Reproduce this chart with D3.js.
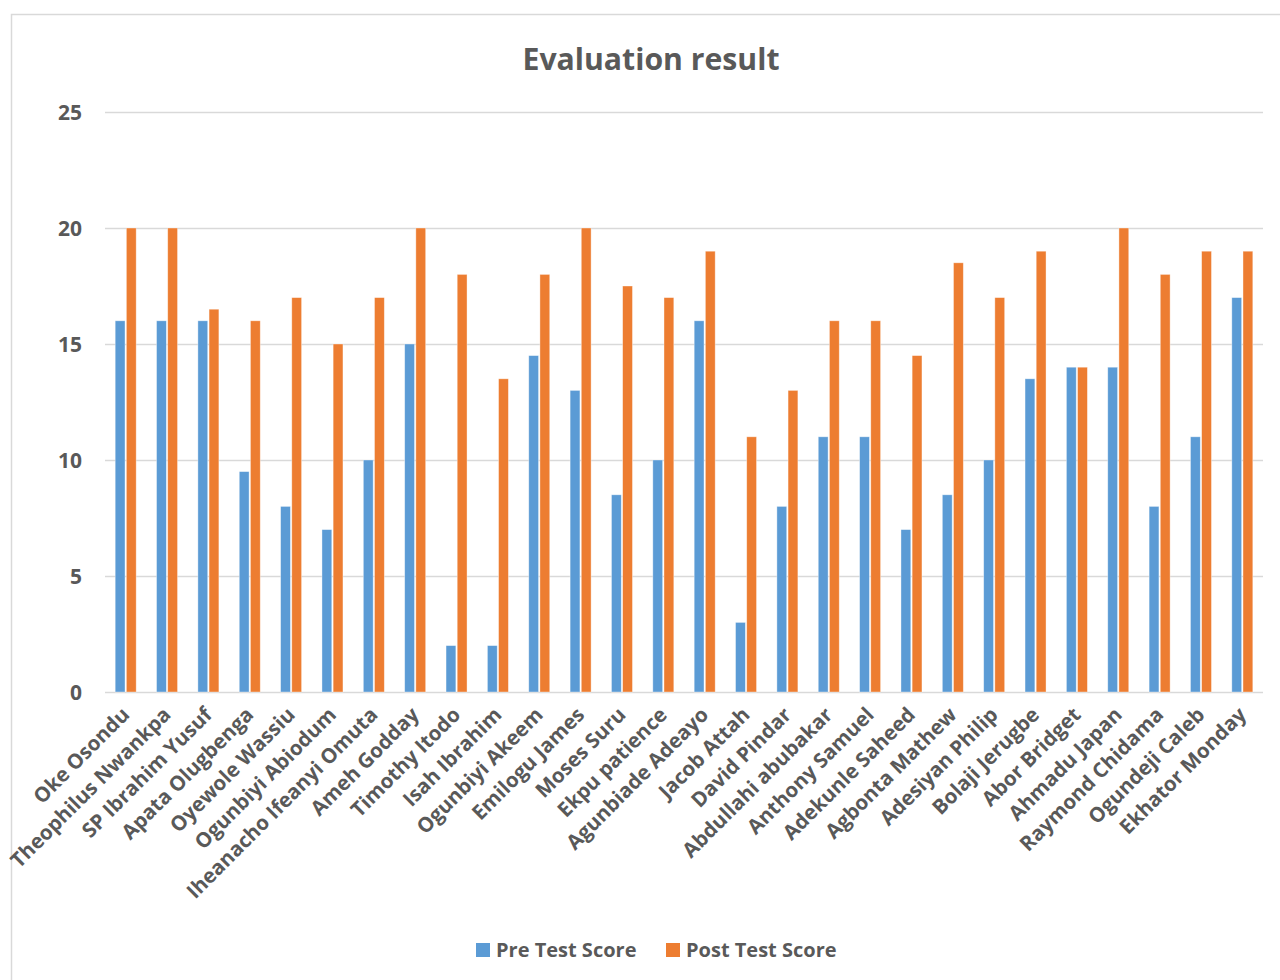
<!DOCTYPE html>
<html>
<head>
<meta charset="utf-8">
<script src="https://cdn.jsdelivr.net/npm/d3@7"></script>
<style>
  html, body { margin: 0; padding: 0; background: #fff; }
  svg text { font-family: "Open Sans", "DejaVu Sans", sans-serif; font-weight: 700; fill: #595959; }
</style>
</head>
<body>
<svg id="chart" width="1280" height="980"></svg>
<script>
const students = [
  "Oke Osondu", "Theophilus Nwankpa", "SP Ibrahim Yusuf", "Apata Olugbenga",
  "Oyewole Wassiu", "Ogunbiyi Abiodum", "Iheanacho Ifeanyi Omuta", "Ameh Godday",
  "Timothy Itodo", "Isah Ibrahim", "Ogunbiyi Akeem", "Emilogu James",
  "Moses Suru", "Ekpu patience", "Agunbiade Adeayo", "Jacob Attah",
  "David Pindar", "Abdullahi abubakar", "Anthony Samuel", "Adekunle Saheed",
  "Agbonta Mathew", "Adesiyan Philip", "Bolaji Jerugbe", "Abor Bridget",
  "Ahmadu Japan", "Raymond Chidama", "Ogundeji Caleb", "Ekhator Monday"
];
const preTest = [16, 16, 16, 9.5, 8, 7, 10, 15, 2, 2, 14.5, 13, 8.5, 10, 16, 3,
                 8, 11, 11, 7, 8.5, 10, 13.5, 14, 14, 8, 11, 17];
const postTest = [20, 20, 16.5, 16, 17, 15, 17, 20, 18, 13.5, 18, 20, 17.5, 17, 19, 11,
                  13, 16, 16, 14.5, 18.5, 17, 19, 14, 20, 18, 19, 19];
const seriesNames = ["Pre Test Score", "Post Test Score"];
const seriesColors = ["#5B9BD5", "#ED7D31"];
const yTicks = [0, 5, 10, 15, 20, 25];

const svg = d3.select("#chart");

// chart area frame
svg.append("path")
  .attr("d", "M11.5,980 V14.5 H1280")
  .attr("fill", "none")
  .attr("stroke", "#d9d9d9")
  .attr("stroke-width", 1.5);

const plotLeft = 105, plotRight = 1263, plotTop = 112, plotBottom = 692;

const x0 = d3.scaleBand().domain(students).range([plotLeft, plotRight]).paddingInner(0).paddingOuter(0);
const x1 = d3.scaleBand().domain(seriesNames).range([-10.5, 10.5]).paddingInner(0.12);
const y = d3.scaleLinear().domain([0, 25]).range([plotBottom, plotTop]);

// title
svg.append("text")
  .attr("x", 651).attr("y", 70)
  .attr("text-anchor", "middle")
  .attr("font-size", 31)
  .attr("textLength", 257)
  .attr("lengthAdjust", "spacingAndGlyphs")
  .text("Evaluation result");

// gridlines and value labels
const yAxis = d3.axisLeft(y).tickValues(yTicks).tickSize(-(plotRight - plotLeft)).tickPadding(23);
const yg = svg.append("g").attr("transform", `translate(${plotLeft},0)`).call(yAxis);
yg.select(".domain").remove();
yg.selectAll(".tick line").attr("stroke", "#d9d9d9").attr("stroke-width", 1.5);
yg.selectAll(".tick text")
  .attr("font-size", 21)
  .attr("fill", "#595959")
  .attr("font-family", "Open Sans, sans-serif")
  .attr("font-weight", 700)
  .attr("dy", "0.36em");

// bars
const rows = students.map((s, i) => ({ name: s, values: [preTest[i], postTest[i]] }));
const groups = svg.append("g").selectAll("g")
  .data(rows).join("g")
  .attr("transform", d => `translate(${x0(d.name) + x0.bandwidth() / 2},0)`);
groups.selectAll("rect")
  .data(d => d.values.map((v, k) => ({ key: seriesNames[k], value: v, color: seriesColors[k] })))
  .join("rect")
  .attr("x", d => x1(d.key))
  .attr("width", x1.bandwidth())
  .attr("y", d => y(d.value))
  .attr("height", d => y(0) - y(d.value))
  .attr("fill", d => d.color)
  .attr("stroke", "#fff")
  .attr("stroke-opacity", 0.5)
  .attr("stroke-width", 0.75);

// category labels
const xAxis = d3.axisBottom(x0).tickSize(0).tickPadding(0);
const xg = svg.append("g").attr("transform", `translate(0,${plotBottom})`).call(xAxis);
xg.select(".domain").remove();
xg.selectAll(".tick text")
  .attr("font-size", 20.5)
  .attr("fill", "#595959")
  .attr("font-family", "Open Sans, sans-serif")
  .attr("font-weight", 700)
  .attr("text-anchor", "end")
  .attr("transform", "translate(0,19) rotate(-45)")
  .attr("dy", "0.35em");

// legend
const legend = svg.append("g");
const legendX = [476, 666];
seriesNames.forEach((name, k) => {
  legend.append("rect")
    .attr("x", legendX[k]).attr("y", 943)
    .attr("width", 14).attr("height", 14)
    .attr("fill", seriesColors[k]);
  legend.append("text")
    .attr("x", legendX[k] + 20).attr("y", 957)
    .attr("font-size", 20)
    .text(name);
});
</script>
</body>
</html>
